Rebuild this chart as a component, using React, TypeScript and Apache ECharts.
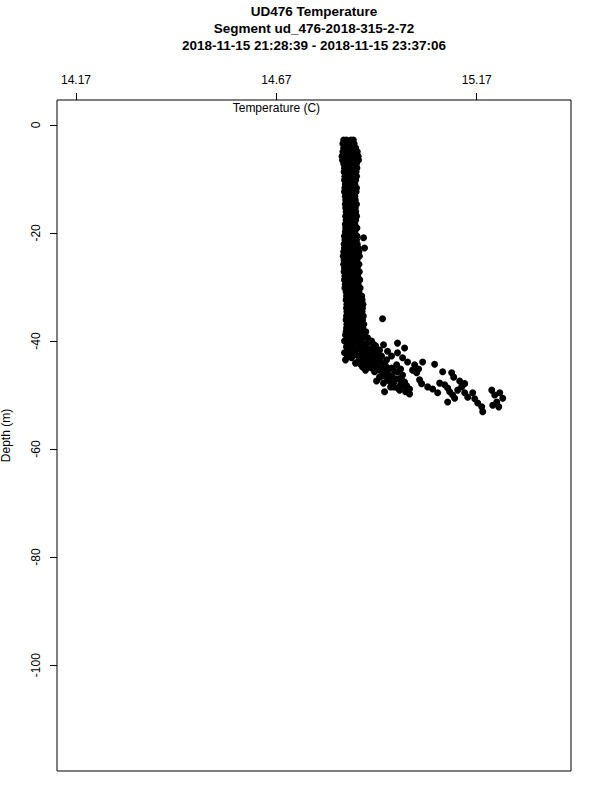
import React, { useEffect, useRef } from "react";
import * as echarts from "echarts";

const titleLines = [
  "UD476 Temperature",
  "Segment ud_476-2018-315-2-72",
  "2018-11-15 21:28:39 - 2018-11-15 23:37:06",
];
const xAxisTitle = "Temperature (C)";
const xAxisTitleAt = 14.67;
const yAxisTitle = "Depth (m)";
const xTicks = [14.17, 14.67, 15.17];
const yTicks = [0, -20, -40, -60, -80, -100];
const xRange = [14.1225, 15.4053];
const yRange = [-119.6, 4.6];

// depth (m) -> temperatures (C) observed at that depth, main mixed-layer column
const columnRows: [number, number[]][] = [
  [-2.8, [14.838, 14.845, 14.856, 14.862]],
  [-3.5, [14.836, 14.843, 14.85, 14.857, 14.864]],
  [-4.3, [14.838, 14.846, 14.853, 14.86, 14.868]],
  [-5.0, [14.836, 14.843, 14.851, 14.859, 14.866, 14.872]],
  [-5.8, [14.834, 14.841, 14.849, 14.857, 14.865, 14.874]],
  [-6.5, [14.835, 14.843, 14.851, 14.86, 14.868, 14.875]],
  [-7.2, [14.838, 14.846, 14.854, 14.862, 14.87]],
  [-8.0, [14.84, 14.848, 14.856, 14.864, 14.871]],
  [-8.7, [14.839, 14.847, 14.855, 14.863, 14.869]],
  [-9.5, [14.841, 14.849, 14.857, 14.865, 14.87]],
  [-10.2, [14.84, 14.848, 14.856, 14.863, 14.868]],
  [-11.0, [14.842, 14.85, 14.858, 14.866]],
  [-11.7, [14.841, 14.849, 14.857, 14.865, 14.87]],
  [-12.4, [14.84, 14.847, 14.855, 14.863, 14.869]],
  [-13.2, [14.842, 14.85, 14.858, 14.866]],
  [-13.9, [14.843, 14.851, 14.859, 14.867]],
  [-14.7, [14.842, 14.849, 14.857, 14.865, 14.87]],
  [-15.4, [14.843, 14.851, 14.859, 14.867]],
  [-16.1, [14.844, 14.852, 14.86, 14.868]],
  [-16.9, [14.843, 14.85, 14.858, 14.866, 14.87]],
  [-17.6, [14.844, 14.852, 14.86, 14.868]],
  [-18.4, [14.842, 14.85, 14.858, 14.866]],
  [-19.1, [14.843, 14.851, 14.859, 14.867, 14.871]],
  [-19.8, [14.842, 14.85, 14.858, 14.866]],
  [-20.6, [14.84, 14.848, 14.856, 14.864, 14.871]],
  [-20.9, [14.8875]],
  [-21.3, [14.841, 14.849, 14.857, 14.865, 14.87]],
  [-22.1, [14.839, 14.847, 14.855, 14.863, 14.872]],
  [-22.8, [14.84, 14.848, 14.856, 14.864, 14.874, 14.89]],
  [-23.5, [14.838, 14.846, 14.854, 14.862, 14.87, 14.876]],
  [-24.3, [14.837, 14.845, 14.853, 14.861, 14.869, 14.877]],
  [-25.0, [14.839, 14.847, 14.855, 14.863, 14.871]],
  [-25.8, [14.838, 14.846, 14.854, 14.862, 14.87, 14.876]],
  [-26.5, [14.84, 14.848, 14.856, 14.864, 14.872]],
  [-27.2, [14.839, 14.847, 14.855, 14.863, 14.871, 14.877]],
  [-28.0, [14.841, 14.849, 14.857, 14.865, 14.873]],
  [-28.7, [14.84, 14.848, 14.856, 14.864, 14.872, 14.878]],
  [-29.5, [14.842, 14.85, 14.858, 14.866, 14.874]],
  [-30.2, [14.841, 14.849, 14.857, 14.865, 14.873, 14.879]],
  [-30.9, [14.844, 14.852, 14.86, 14.868, 14.876]],
  [-31.7, [14.845, 14.853, 14.861, 14.869, 14.877, 14.883]],
  [-32.4, [14.844, 14.852, 14.86, 14.868, 14.876, 14.884]],
  [-33.2, [14.846, 14.854, 14.862, 14.87, 14.878, 14.886]],
  [-33.9, [14.845, 14.853, 14.861, 14.869, 14.877, 14.885]],
  [-34.6, [14.846, 14.854, 14.862, 14.87, 14.878, 14.884]],
  [-35.4, [14.845, 14.853, 14.861, 14.869, 14.877, 14.887]],
  [-35.9, [14.935]],
  [-36.1, [14.844, 14.852, 14.86, 14.868, 14.876, 14.885]],
  [-36.9, [14.846, 14.854, 14.862, 14.87, 14.878, 14.888]],
  [-37.6, [14.845, 14.853, 14.861, 14.869, 14.877, 14.886]],
  [-38.3, [14.844, 14.852, 14.86, 14.868, 14.876, 14.884, 14.893]],
];

// [temperature (C), depth (m)] around the base of the mixed layer
const thermoclinePoints: [number, number][] = [
  [14.8425, -38.9], [14.8575, -39.1], [14.8725, -38.9], [14.8875, -39.3], [14.8975, -39.4],
  [14.85, -39.4], [14.865, -39.4], [14.88, -39.6],
  [14.84, -40.0], [14.8525, -40.2], [14.8675, -39.8], [14.8825, -40.2], [14.8975, -40.4], [14.9075, -40.0],
  [14.8475, -40.6], [14.8625, -40.4], [14.8775, -40.7], [14.8925, -40.6], [14.9125, -40.6],
  [14.845, -41.1], [14.86, -40.9], [14.875, -41.3], [14.89, -41.1], [14.905, -41.5], [14.9175, -40.9],
  [14.8525, -41.5], [14.8675, -41.7], [14.8825, -41.7], [14.8975, -41.9], [14.9125, -41.5],
  [14.84, -42.2], [14.855, -42.0], [14.87, -42.6], [14.885, -42.2], [14.9, -42.4], [14.915, -42.0], [14.9274, -41.7],
  [14.8475, -42.8], [14.8625, -42.6], [14.8775, -42.8], [14.8925, -43.0], [14.9075, -42.8], [14.9225, -42.4],
  [14.8425, -43.5], [14.8575, -43.1], [14.875, -43.7], [14.8875, -43.3], [14.9025, -43.5], [14.9175, -43.1], [14.9324, -42.8],
  [14.8675, -44.1], [14.88, -44.3], [14.895, -44.1], [14.91, -43.7], [14.925, -43.5],
  [14.885, -44.8], [14.9, -44.6], [14.915, -44.3], [14.93, -43.9], [14.945, -43.5],
  [14.8925, -45.4], [14.9075, -45.0], [14.9225, -44.8], [14.9374, -44.4],
  [14.9374, -40.7], [14.9474, -41.9], [14.9574, -42.8], [14.9424, -44.6], [14.9574, -45.0], [14.97, -44.4],
  [14.9274, -45.4], [14.9424, -45.9], [14.9574, -46.5], [14.9723, -45.7], [14.985, -46.3],
  [14.915, -45.7], [14.935, -45.4], [14.95, -45.2], [14.935, -46.5], [14.95, -46.3], [14.965, -45.6], [14.98, -45.2],
  [14.9274, -46.7], [14.9474, -47.2], [14.9624, -47.8], [14.975, -47.0], [14.99, -47.6],
  [14.92, -47.4], [14.9374, -47.8], [14.9524, -47.4], [14.9674, -47.0], [14.9824, -47.2],
  [14.955, -48.5], [14.9723, -48.7], [14.9873, -48.3], [15.0024, -48.9], [14.94, -49.4], [15.0024, -49.8], [14.9924, -49.4],
  [14.9624, -48.5], [14.98, -48.0], [14.995, -48.3], [14.9774, -49.1],
  [14.9723, -40.4], [14.99, -41.3], [14.9723, -42.2], [14.985, -43.1], [14.9974, -43.9],
  [15.015, -44.4], [15.01, -45.4], [15.035, -43.9], [15.02, -45.9],
];

// [temperature (C), depth (m)] warm tail near the bottom of the profile
const tailPoints: [number, number][] = [
  [15.065, -44.3], [15.025, -45.2], [15.0274, -47.2], [15.0324, -47.9],
  [15.085, -45.7], [15.1075, -45.9], [15.1125, -46.7],
  [15.0475, -48.5], [15.06, -48.9], [15.0725, -49.6], [15.0775, -47.8], [15.09, -48.1],
  [15.0975, -48.7], [15.1025, -49.4], [15.11, -50.0], [15.115, -50.6], [15.0975, -51.3],
  [15.1225, -49.1], [15.1324, -48.5], [15.14, -49.6], [15.1475, -50.4], [15.16, -49.6],
  [15.165, -50.7], [15.1725, -51.5], [15.1825, -52.2], [15.185, -53.1],
  [15.2075, -49.1], [15.215, -50.0], [15.2275, -49.6], [15.235, -50.6], [15.22, -51.3],
  [15.21, -51.9], [15.225, -52.2], [15.1274, -47.4], [15.14, -47.9],
];

const FONT = "'Liberation Sans', Arial, Helvetica, sans-serif";

export default function App() {
  const ref = useRef<HTMLDivElement>(null);

  useEffect(() => {
    document.body.style.margin = "0";
    if (!ref.current) return;
    const chart = echarts.init(ref.current, undefined, { renderer: "svg" });

    const data: [number, number][] = [
      ...columnRows.flatMap(([d, ts]) => ts.map((t) => [t, d] as [number, number])),
      ...thermoclinePoints,
      ...tailPoints,
    ];

    chart.setOption({
      animation: false,
      backgroundColor: "#fff",
      textStyle: { fontFamily: FONT },
      title: {
        text: titleLines.join("\n"),
        left: 314,
        top: 3,
        padding: 0,
        textAlign: "center",
        textStyle: {
          fontFamily: FONT,
          fontSize: 13.5,
          fontWeight: "bold",
          lineHeight: 17,
          color: "#000",
        },
      },
      grid: {
        left: 57,
        top: 100,
        right: 29,
        bottom: 29,
        show: true,
        borderColor: "#000",
        borderWidth: 1,
        backgroundColor: "transparent",
        containLabel: false,
        outerBoundsMode: "none",
      },
      xAxis: {
        type: "value",
        position: "top",
        min: xRange[0],
        max: xRange[1],
        axisLine: { show: false, onZero: false },
        splitLine: { show: false },
        axisTick: {
          show: true,
          length: 7,
          customValues: xTicks,
          lineStyle: { color: "#000", width: 1 },
        },
        axisLabel: {
          customValues: xTicks,
          formatter: (v: number) => v.toFixed(2),
          color: "#000",
          fontSize: 12,
          fontFamily: FONT,
          margin: 14,
        },
      },
      yAxis: {
        type: "value",
        min: yRange[0],
        max: yRange[1],
        name: yAxisTitle,
        nameLocation: "middle",
        nameGap: 45,
        nameTextStyle: { color: "#000", fontSize: 12, fontFamily: FONT },
        axisLine: { show: false, onZero: false },
        splitLine: { show: false },
        axisTick: {
          show: true,
          length: 7,
          customValues: yTicks,
          lineStyle: { color: "#000", width: 1 },
        },
        axisLabel: {
          customValues: yTicks,
          rotate: 90,
          color: "#000",
          fontSize: 12,
          fontFamily: FONT,
          margin: 15,
          formatter: (v: number) => String(Math.round(v)),
        },
      },
      series: [
        {
          type: "scatter",
          data,
          symbol: "circle",
          symbolSize: 7,
          itemStyle: { color: "#000", opacity: 1 },
          silent: true,
        },
      ],
    });

    const px = chart.convertToPixel({ xAxisIndex: 0 }, xAxisTitleAt) as number;
    chart.setOption({
      graphic: [
        {
          type: "text",
          x: px,
          y: 108,
          style: {
            text: xAxisTitle,
            fill: "#000",
            fontSize: 12,
            fontFamily: FONT,
            align: "center",
            verticalAlign: "middle",
          },
        },
      ],
    });

    return () => chart.dispose();
  }, []);

  return <div ref={ref} style={{ width: 600, height: 800 }} />;
}
